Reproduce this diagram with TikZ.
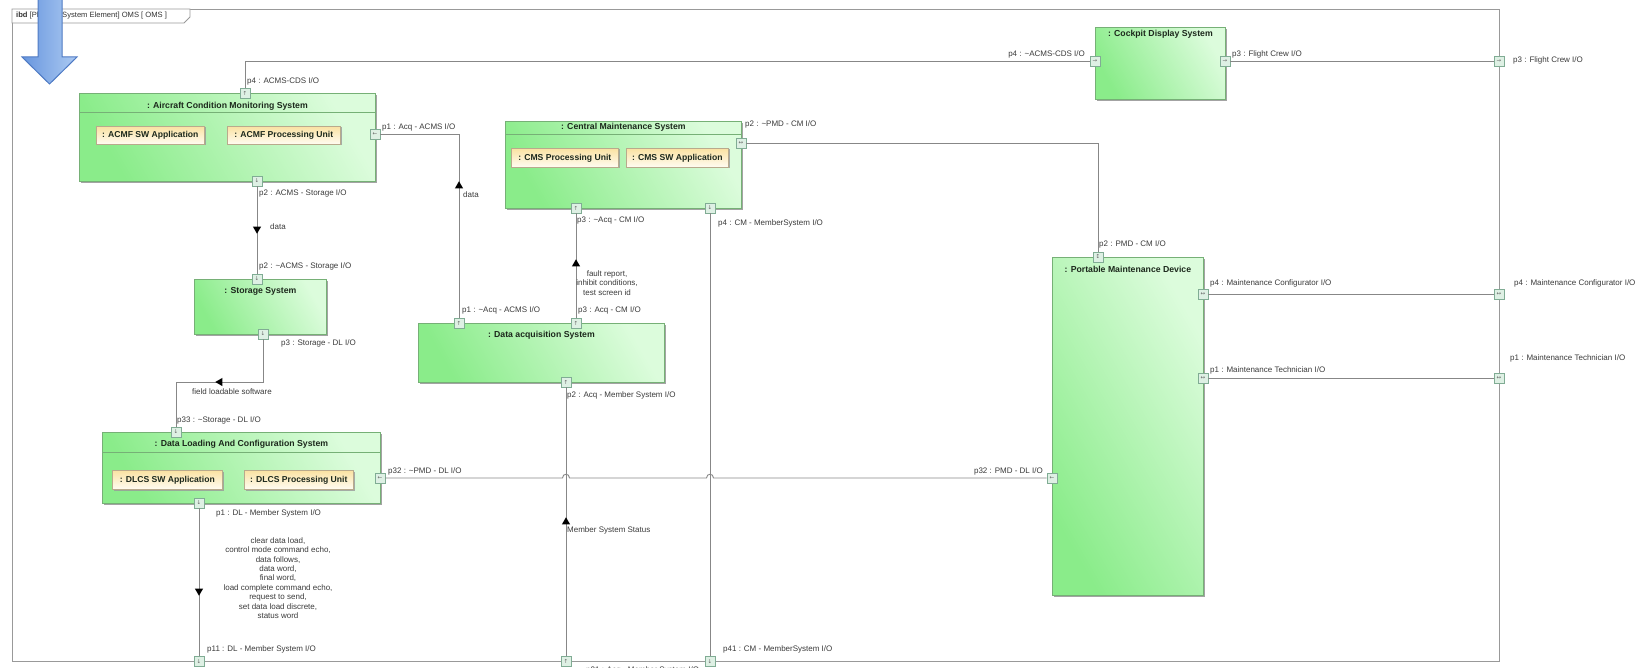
\documentclass[tikz,border=0pt]{standalone}
\usepackage{fontspec}
\setmainfont{Liberation Sans}
\newfontfamily\symfont{DejaVu Sans}
\usetikzlibrary{shapes.geometric,calc,shadows}

\definecolor{blkA}{RGB}{138,236,138}
\definecolor{blkB}{RGB}{220,252,220}
\definecolor{blkLine}{RGB}{118,176,118}
\definecolor{partA}{RGB}{250,226,162}
\definecolor{partB}{RGB}{255,252,242}
\definecolor{partLine}{RGB}{185,170,140}
\definecolor{portFill}{RGB}{222,240,228}
\definecolor{portLine}{RGB}{128,172,148}
\definecolor{wire}{RGB}{135,135,135}
\definecolor{txt}{RGB}{58,58,58}
\definecolor{ttl}{RGB}{28,40,28}
\definecolor{arrA}{RGB}{104,150,222}
\definecolor{arrB}{RGB}{172,202,242}
\definecolor{arrLine}{RGB}{78,122,196}

\tikzset{
  block/.style={draw=blkLine, line width=0.8pt, left color=blkA, right color=blkB,
    shading angle=120, anchor=north west, inner sep=0,
    drop shadow={shadow xshift=1.4pt, shadow yshift=-1.4pt, fill=black!45, opacity=0.8}},
  part/.style={draw=partLine, line width=0.6pt, top color=partA, bottom color=partB,
    anchor=north west, inner sep=0, text=ttl,
    font=\bfseries\fontsize{8.6}{10}\selectfont,
    drop shadow={shadow xshift=1.2pt, shadow yshift=-1.2pt, fill=black!40, opacity=0.8}},
  btitle/.style={inner sep=0, text=ttl, font=\bfseries\fontsize{8.7}{10}\selectfont},
  port/.style={draw=portLine, fill=portFill, line width=0.6pt, minimum size=10pt,
    inner sep=0, text=black!60, font=\symfont\fontsize{5.5}{5.5}\selectfont},
  lbl/.style={inner sep=0, anchor=west, text=txt, font=\fontsize{8}{9.4}\selectfont},
  lble/.style={lbl, anchor=east},
  lblc/.style={inner sep=0, align=center, text=txt, font=\fontsize{8}{9.4}\selectfont},
  wire/.style={draw=wire, line width=0.9pt},
  flowhead/.style={regular polygon, regular polygon sides=3, fill=black, draw=none,
    inner sep=0, minimum size=9.5pt},
  sep/.style={draw=blkLine, line width=0.7pt},
}

\begin{document}
\begin{tikzpicture}[x=1pt, y=-1pt]
\useasboundingbox (0,0) rectangle (1645,668);

% diagram frame with its name tab
\draw[draw=black!40, line width=0.9pt] (12,9) rectangle (1499,661);
\draw[draw=black!40, line width=0.8pt, fill=white] (12,9) -- (190,9) -- (190,17) -- (184,23) -- (12,23) -- cycle;
\node[lbl, text=black!80, font=\fontsize{7.6}{9}\selectfont] (tab) at (16,16)
  {\textbf{ibd} [Physical System Element] OMS [ OMS ]};

% ---------------- blocks ----------------
\node[block, minimum width=296pt, minimum height=88pt] (acms) at (79,93) {};
\node[btitle] (acms-t) at ($(acms.north)+(0,13)$) {: Aircraft Condition Monitoring System};
\draw[sep] ($(acms.north west)+(0,19)$) -- ($(acms.north east)+(0,19)$);
\node[part, minimum width=108pt, minimum height=18pt] (acmfsw) at (96,126) {: ACMF SW Application};
\node[part, minimum width=113pt, minimum height=18pt] (acmfpu) at (227,126) {: ACMF Processing Unit};

\node[block, minimum width=236pt, minimum height=87pt] (cms) at (505,121) {};
\node[btitle] (cms-t) at ($(cms.north)+(0,6.5)$) {: Central Maintenance System};
\draw[sep] ($(cms.north west)+(0,13)$) -- ($(cms.north east)+(0,13)$);
\node[part, minimum width=107pt, minimum height=19pt] (cmspu) at (511,148) {: CMS Processing Unit};
\node[part, minimum width=102pt, minimum height=19pt] (cmssw) at (626,148) {: CMS SW Application};

\node[block, minimum width=130pt, minimum height=72pt] (cds) at (1095,27) {};
\node[btitle] (cds-t) at ($(cds.north)+(0,7)$) {: Cockpit Display System};

\node[block, minimum width=132pt, minimum height=55pt] (sto) at (194,279) {};
\node[btitle] (sto-t) at ($(sto.north)+(0,12)$) {: Storage System};

\node[block, minimum width=246pt, minimum height=59pt] (das) at (418,323) {};
\node[btitle] (das-t) at ($(das.north)+(0,12)$) {: Data acquisition System};

\node[block, minimum width=278pt, minimum height=71pt] (dlcs) at (102,432) {};
\node[btitle] (dlcs-t) at ($(dlcs.north)+(0,12)$) {: Data Loading And Configuration System};
\draw[sep] ($(dlcs.north west)+(0,20)$) -- ($(dlcs.north east)+(0,20)$);
\node[part, minimum width=110pt, minimum height=19pt] (dlsw) at (112,470) {: DLCS SW Application};
\node[part, minimum width=109pt, minimum height=19pt] (dlpu) at (244,470) {: DLCS Processing Unit};

\node[block, minimum width=151pt, minimum height=338pt] (pmd) at (1052,257) {};
\node[btitle] (pmd-t) at ($(pmd.north)+(0,12)$) {: Portable Maintenance Device};

% ---------------- ports ----------------
\node[port] (acmsP4) at (245,93) {↑};
\node[port] (acmsP1) at (375,134) {←};
\node[port] (acmsP2) at (257,181) {↓};
\node[port] (stoP2) at (257,279) {↓};
\node[port] (stoP3) at (263,334) {↓};
\node[port] (dlP33) at (176,432) {↓};
\node[port] (dlP32) at (380,478) {←};
\node[port] (dlP1) at (199,503) {↓};
\node[port] (dasP1) at (459,323) {↑};
\node[port] (dasP3) at (576,323) {↑};
\node[port] (dasP2) at (566,382) {↑};
\node[port] (cmsP3) at (576,208) {↑};
\node[port] (cmsP4) at (710,208) {↓};
\node[port] (cmsP2) at (741,143) {↔};
\node[port] (cdsP4) at (1095,61) {→};
\node[port] (cdsP3) at (1225,61) {→};
\node[port] (pmdP2) at (1098,257) {↕};
\node[port] (pmdP4) at (1203,294) {↔};
\node[port] (pmdP1) at (1203,378) {↔};
\node[port] (pmdP32) at (1052,478) {←};
% ports on the frame
\node[port] (frP3) at (1499,61) {→};
\node[port] (frP4) at (1499,294) {↔};
\node[port] (frP1) at (1499,378) {↔};
\node[port] (frB0) at (199,661) {↓};
\node[port] (frB1) at (566,661) {↑};
\node[port] (frB2) at (710,661) {↓};

% ---------------- connectors ----------------
\coordinate (flsBend) at (176,382);
\draw[wire] (acmsP4) |- (cdsP4);
\draw[wire] (cdsP3) -- (frP3);
\draw[wire] (acmsP1) -| (dasP1);
\draw[wire] (acmsP2) -- (stoP2);
\draw[wire] (stoP3) |- (flsBend) -- (dlP33);
\draw[wire] (cmsP2) -| (pmdP2);
\draw[wire] (cmsP3) -- (dasP3);
\draw[wire] (cmsP4) -- (frB2);
\draw[wire] (dasP2) -- (frB1);
\draw[wire] (dlP1) -- (frB0);
\draw[wire] (pmdP4) -- (frP4);
\draw[wire] (pmdP1) -- (frP1);
\draw[wire] (dlP32) -- (562.5,478) .. controls (562.5,473) and (569.5,473) .. (569.5,478)
  -- (706.5,478) .. controls (706.5,473) and (713.5,473) .. (713.5,478) -- (pmdP32);

% item flow heads
\node[flowhead, shape border rotate=180] (fA) at (257,229) {};
\node[flowhead] (fB) at (459,186) {};
\node[flowhead] (fC) at (576,264) {};
\node[flowhead, shape border rotate=90] (fD) at (220,382) {};
\node[flowhead, shape border rotate=180] (fE) at (199,591) {};
\node[flowhead] (fF) at (566,522) {};

% ---------------- labels ----------------
\node[lbl] (l-acmsP4) at (247,81) {p4 : ACMS-CDS I/O};
\node[lbl] (l-acmsP1) at (382,127) {p1 : Acq - ACMS I/O};
\node[lbl] (l-acmsP2) at (259,193) {p2 : ACMS - Storage I/O};
\node[lbl] (l-fA) at (270,227) {data};
\node[lbl] (l-stoP2) at (259,266) {p2 : \textasciitilde ACMS - Storage I/O};
\node[lbl] (l-stoP3) at (281,343) {p3 : Storage - DL I/O};
\node[lblc] (l-fD) at (232,392) {field loadable software};
\node[lbl] (l-dlP33) at (177,420) {p33 : \textasciitilde Storage - DL I/O};
\node[lbl] (l-dlP32) at (388,471) {p32 : \textasciitilde PMD - DL I/O};
\node[lbl] (l-dlP1) at (216,513) {p1 : DL - Member System I/O};
\node[lblc] (l-fE) at (278,578) {clear data load,\\control mode command echo,\\data follows,\\data word,\\final word,\\load complete command echo,\\request to send,\\set data load discrete,\\status word};
\node[lbl] (l-frB0) at (207,649) {p11 : DL - Member System I/O};
\node[lbl] (l-fB) at (463,195) {data};
\node[lbl] (l-dasP1) at (462,310) {p1 : \textasciitilde Acq - ACMS I/O};
\node[lbl] (l-dasP3) at (578,310) {p3 : Acq - CM I/O};
\node[lbl] (l-dasP2) at (567,395) {p2 : Acq - Member System I/O};
\node[lbl] (l-fF) at (567,530) {Member System Status};
\node[lbl] (l-frB1) at (586,670) {p21 : Acq - Member System I/O};
\node[lbl] (l-cmsP3) at (577,220) {p3 : \textasciitilde Acq - CM I/O};
\node[lblc] (l-fC) at (607,283) {fault report,\\inhibit conditions,\\test screen id};
\node[lbl] (l-cmsP4) at (718,223) {p4 : CM - MemberSystem I/O};
\node[lbl] (l-frB2) at (723,649) {p41 : CM - MemberSystem I/O};
\node[lbl] (l-cmsP2) at (745,124) {p2 : \textasciitilde PMD - CM I/O};
\node[lble] (l-cdsP4) at (1085,54) {p4 : \textasciitilde ACMS-CDS I/O};
\node[lbl] (l-cdsP3) at (1232,54) {p3 : Flight Crew I/O};
\node[lbl] (l-frP3) at (1513,60) {p3 : Flight Crew I/O};
\node[lbl] (l-pmdP2) at (1099,244) {p2 : PMD - CM I/O};
\node[lbl] (l-pmdP4) at (1210,283) {p4 : Maintenance Configurator I/O};
\node[lbl] (l-pmdP1) at (1210,370) {p1 : Maintenance Technician I/O};
\node[lbl] (l-frP4) at (1514,283) {p4 : Maintenance Configurator I/O};
\node[lbl] (l-frP1) at (1510,358) {p1 : Maintenance Technician I/O};
\node[lble] (l-pmdP32) at (1043,471) {p32 : PMD - DL I/O};

% big pointer arrow drawn over the frame tab
\draw[draw=arrLine, line width=1pt, left color=arrA, right color=arrB]
  (38,-3) -- (38,57) -- (22,57) -- (49.5,84) -- (77,57) -- (62,57) -- (62,-3);
\end{tikzpicture}
\end{document}
